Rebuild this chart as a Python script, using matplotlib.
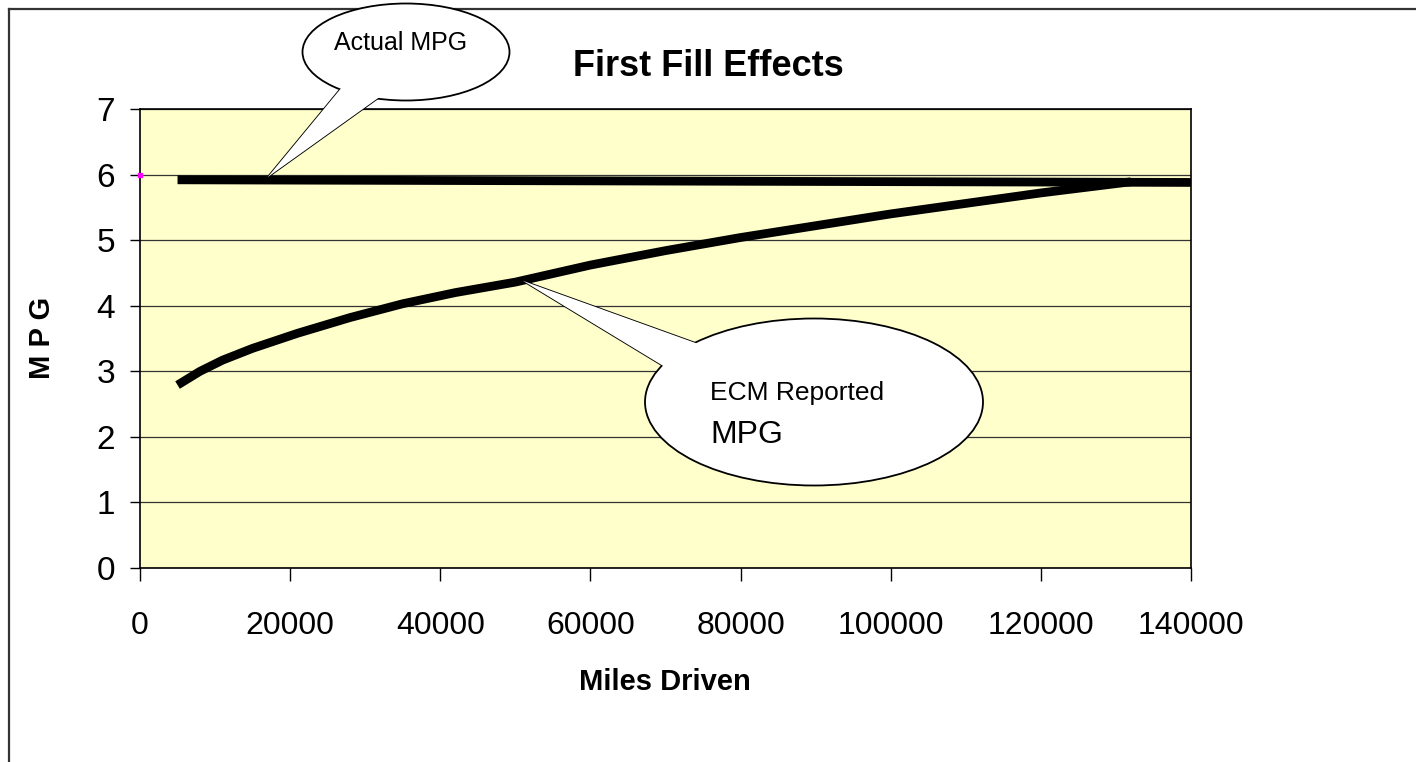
import numpy as np
import matplotlib
matplotlib.use('Agg')
import matplotlib.pyplot as plt
from matplotlib.patches import Ellipse, Polygon
from matplotlib.lines import Line2D
from matplotlib.transforms import IdentityTransform

plt.rcParams['font.family'] = ['Liberation Sans', 'DejaVu Sans']

# data
actual_x = [5000, 140000]
actual_y = [5.92, 5.88]
ecm_x = [5000, 8000, 11000, 15000, 21000, 28000, 35000, 42000, 50000, 60000,
         70000, 80000, 90000, 100000, 110000, 120000, 132000]
ecm_y = [2.79, 3.00, 3.17, 3.35, 3.58, 3.82, 4.03, 4.20, 4.36, 4.62,
         4.84, 5.04, 5.22, 5.40, 5.56, 5.72, 5.89]
marker_x = [0]
marker_y = [6]
xticks = [0, 20000, 40000, 60000, 80000, 100000, 120000, 140000]
yticks = [0, 1, 2, 3, 4, 5, 6, 7]

W, H = 1416, 762
fig = plt.figure(figsize=(W / 100, H / 100), dpi=100)
ax = fig.add_axes([140 / W, 1 - 568 / H, 1051 / W, 459 / H])
ax.set_facecolor('#FFFFCC')

ax.plot(actual_x, actual_y, color='black', lw=6.3, solid_capstyle='butt', clip_on=False, zorder=3)
ax.plot(ecm_x, ecm_y, color='black', lw=6.3, solid_capstyle='butt', solid_joinstyle='round', zorder=3)
ax.plot(marker_x, marker_y, 's', color='#FF00FF', ms=3, clip_on=False, zorder=4)

ax.set_xlim(0, 140000)
ax.set_ylim(0, 7)
ax.set_xticks(xticks)
ax.set_yticks(yticks)
ax.tick_params(axis='x', labelsize=23, length=9, width=1, pad=22)
ax.tick_params(axis='y', labelsize=24, length=7, width=1, pad=11)
ax.yaxis.grid(True, color='#333333', lw=0.9)
ax.set_axisbelow(True)
for s in ax.spines.values():
    s.set_linewidth(1.2)

fig.text(665 / W, 1 - 682 / H, 'Miles Driven', fontsize=21, fontweight='bold', ha='center', va='center')
fig.text(42 / W, 1 - 338 / H, 'M P G', fontsize=21, fontweight='bold', ha='center', va='center', rotation=90)
fig.text(708 / W, 1 - 66 / H, 'First Fill Effects', fontsize=26, fontweight='bold', ha='center', va='center')

# border
fig.add_artist(Line2D([9 / W, 1], [1 - 9 / H, 1 - 9 / H], color='#333333', lw=1.6, transform=fig.transFigure))
fig.add_artist(Line2D([9 / W, 9 / W], [0, 1 - 9 / H], color='#333333', lw=1.6, transform=fig.transFigure))


def P(x, y):
    return (x, H - y)


def callout(center, w, h, tip_data, b1, b2):
    tip = ax.transData.transform(tip_data)
    tail = [tuple(tip), P(*b1), P(*b2)]
    fig.add_artist(Polygon(tail, closed=True, fc='white', ec='black', lw=1.3,
                           transform=IdentityTransform(), zorder=5))
    fig.add_artist(Ellipse(P(*center), w, h, fc='white', ec='black', lw=1.3,
                           transform=IdentityTransform(), zorder=6))
    fig.add_artist(Polygon(tail, closed=True, fc='white', ec='none',
                           transform=IdentityTransform(), zorder=7))


callout((406, 52), 207, 97, (17000, 5.96), (347, 81), (388, 91))
fig.text(401 / W, 1 - 43 / H, 'Actual MPG', fontsize=18, ha='center', va='center', zorder=8)

callout((814, 402), 338, 167, (51000, 4.38), (740, 359), (688, 381))
fig.text(710 / W, 1 - 393 / H, 'ECM Reported', fontsize=19, ha='left', va='center', zorder=8)
fig.text(710 / W, 1 - 435 / H, 'MPG', fontsize=23, ha='left', va='center', zorder=8)

fig.savefig('out.png', dpi=100)
